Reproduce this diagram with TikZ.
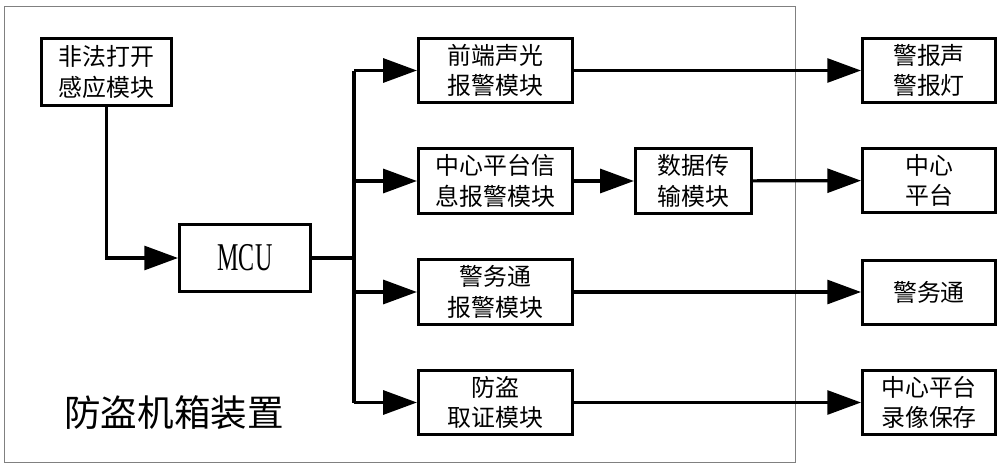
\documentclass[tikz,border=0pt]{standalone}
\usepackage{fontspec}
\setmainfont{Liberation Serif}
\newfontfamily\cjk{Noto Sans CJK SC}
\usetikzlibrary{arrows.meta}

\tikzset{
  blk/.style={draw, line width=2.2pt, minimum height=1.62cm, align=center,
    inner sep=0pt, font=\cjk\fontsize{17}{21.5}\selectfont},
  wire/.style={line width=2.3pt},
  arr/.style={wire, -{Triangle[length=24pt,width=17pt]}},
}

\begin{document}
\begin{tikzpicture}[x=0.025cm,y=-0.025cm]

\useasboundingbox (0,0) rectangle (1000,467);

% anti-theft case
\draw[gray, line width=0.7pt] (4,6) rectangle (795,462);
\node[font=\cjk\fontsize{26}{30}\selectfont] (case) at (174,413) {防盗机箱装置};

% boxes inside the case
\node[blk, minimum width=3.25cm, minimum height=1.67cm] (sense) at (106.5,72) {非法打开\\感应模块};
\node[blk, minimum width=3.27cm, minimum height=1.67cm, font=\fontsize{28}{30}\selectfont] (mcu) at (245,258) {\scalebox{0.61}[1]{MCU}};

\node[blk, minimum width=3.85cm] (light) at (495.5,70.5) {前端声光\\报警模块};
\node[blk, minimum width=3.85cm] (info)  at (495.5,181)  {中心平台信\\息报警模块};
\node[blk, minimum width=3.85cm] (police) at (495.5,292) {警务通\\报警模块};
\node[blk, minimum width=3.85cm] (evid)  at (495.5,402.5) {防盗\\取证模块};
\node[blk, minimum width=2.9cm]  (data)  at (693.5,181)  {数据传\\输模块};

% outside
\node[blk, minimum width=3.32cm] (siren)  at (929,70.5)  {警报声\\警报灯};
\node[blk, minimum width=3.32cm] (center) at (929,180.5) {中心\\平台};
\node[blk, minimum width=3.32cm] (phone)  at (929,292.5) {警务通};
\node[blk, minimum width=3.32cm] (record) at (929,402.5) {中心平台\\录像保存};

\coordinate (bus) at (354,258);

\draw[arr] (sense.south) |- (mcu.west);
\draw[wire] (mcu.east) -- (bus);
\draw[wire] (bus |- light) -- (bus |- evid);

\draw[arr] (bus |- light) -- (light);
\draw[arr] (bus |- info) -- (info);
\draw[arr] (bus |- police) -- (police);
\draw[arr] (bus |- evid) -- (evid);

\draw[arr] (info) -- (data);
\draw[arr] (light) -- (siren);
\draw[arr] (data) -- (center);
\draw[arr] (police) -- (police -| phone.west);
\draw[arr] (evid) -- (record);

\end{tikzpicture}
\end{document}
